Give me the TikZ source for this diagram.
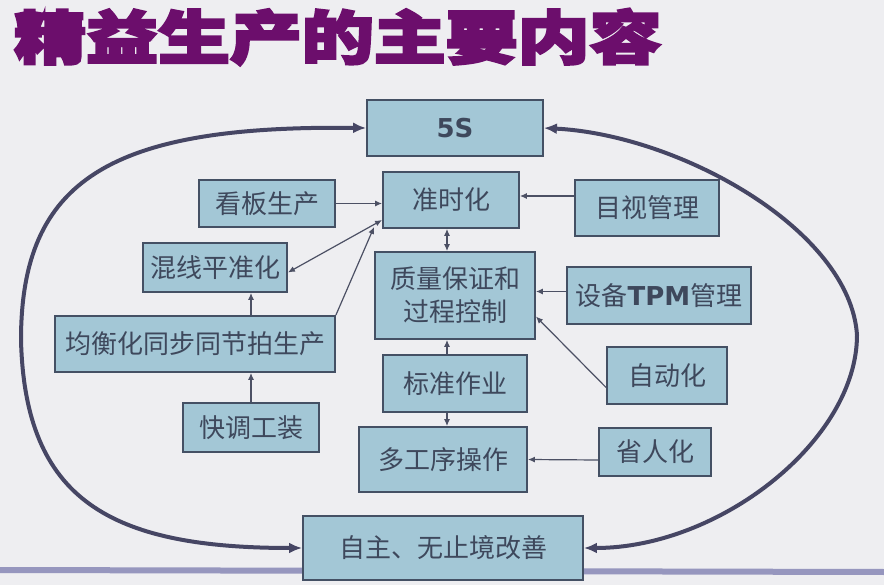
\documentclass[tikz,border=0pt]{standalone}
\usepackage{graphicx}
\usepackage{fontspec}
\setmainfont{Noto Sans CJK SC}
\newfontfamily\titlefont[BoldFeatures={FakeBold=4}]{Noto Sans CJK SC}
\newfontfamily\latinfont{DejaVu Sans}
\usepackage{tikz}
\usetikzlibrary{arrows.meta,calc}
\usepackage{xcolor}
\definecolor{paper}{RGB}{238,238,241}
\definecolor{boxfill}{RGB}{163,199,214}
\definecolor{boxline}{RGB}{68,80,100}
\definecolor{boxtext}{RGB}{62,72,92}
\definecolor{arrowgray}{RGB}{76,80,100}
\definecolor{loopink}{RGB}{70,70,100}
\definecolor{titlepurple}{RGB}{108,14,108}
\definecolor{brushlav}{RGB}{150,150,190}

\begin{document}
\begin{tikzpicture}[x=1pt, y=-1pt,
  box/.style={draw=boxline, line width=1.8pt, fill=boxfill, text=boxtext,
              inner sep=0pt, align=center, font=\fontsize{26}{33}\selectfont},
  parc/.style={-{Latex[length=7pt,width=6pt]}, line width=1.2pt, arrowgray},
  darc/.style={{Latex[length=7pt,width=6pt]}-{Latex[length=7pt,width=6pt]},
               line width=1.2pt, arrowgray},
  bigarc/.style={{Latex[length=13pt,width=11pt]}-{Latex[length=13pt,width=11pt]},
                 line width=4pt, loopink},
]
  \path[use as bounding box, fill=paper] (0,0) rectangle (884,585);
  \draw[brushlav, line width=6pt] (0,570) -- (884,572);
  \node[anchor=west, inner sep=0pt, text=titlepurple,
        font=\titlefont\bfseries\fontsize{58}{60}\selectfont] (title) at (14,37)
    {\scalebox{1.24}[1]{精益生产的主要内容}};
  \foreach \nm/\x/\y/\w/\h/\txt in {
      s5/455/128/176/56/{\latinfont\bfseries 5S},
      jsh/451/200/136/56/准时化,
      kb/267/203.5/136/47/看板生产,
      mg/647/208/144/56/目视管理,
      hx/215/267.5/144/49/混线平准化,
      zl/455/295.5/160/87/{质量保证和\\过程控制},
      tpm/659/295.5/184/57/{设备{\latinfont\bfseries TPM}管理},
      jh/195/344/280/56/均衡化同步同节拍生产,
      bz/455/383.5/144/57/标准作业,
      zd/667/375.5/120/57/自动化,
      kt/251/427.5/136/49/快调工装,
      dg/443/459.5/168/65/多工序操作,
      sr/655/452/112/48/省人化,
      zz/443/548/280/64/自主、无止境改善}{
    \node[box, minimum width=\w pt, minimum height=\h pt] (\nm) at (\x,\y) {\txt};
  }
  \draw[parc] (kb.east) -- (kb.east -| jsh.west);
  \draw[parc] ([yshift=12pt]mg.west) -- ([yshift=4pt]jsh.east);
  \draw[darc] ([xshift=-4pt]jsh.south) -- ([xshift=-8pt]zl.north);
  \draw[darc] ([yshift=-5pt]hx.east) -- ([yshift=-20pt]jsh.west);
  \draw[parc] (jh.north east) -- ([xshift=-8pt,yshift=2pt]jsh.south west);
  \draw[parc] (kt.north) -- (kt.north |- jh.south);
  \draw[parc] (jh.north -| kt.north) -- (hx.south -| kt.north);
  \draw[parc] ([yshift=4pt]tpm.west) -- ([yshift=4pt]zl.east);
  \draw[parc] ([yshift=-12pt]zd.west) -- ([yshift=-21pt]zl.east);
  \draw[parc] ([xshift=-8pt]bz.north) -- ([xshift=-8pt]zl.south);
  \draw[parc] ([xshift=-8pt]bz.south) -- ([xshift=4pt]dg.north);
  \draw[parc] ([yshift=-8pt]sr.west) -- (dg.east);
  \draw[bigarc] (s5.west) .. controls (110,125) and (21,180) .. (21,340)
    .. controls (25,500) and (110,548) .. (zz.west);
  \draw[bigarc] (s5.east) .. controls (680,135) and (850,230) .. (857,335)
    .. controls (857,440) and (720,548) .. (zz.east);
\end{tikzpicture}
\end{document}
